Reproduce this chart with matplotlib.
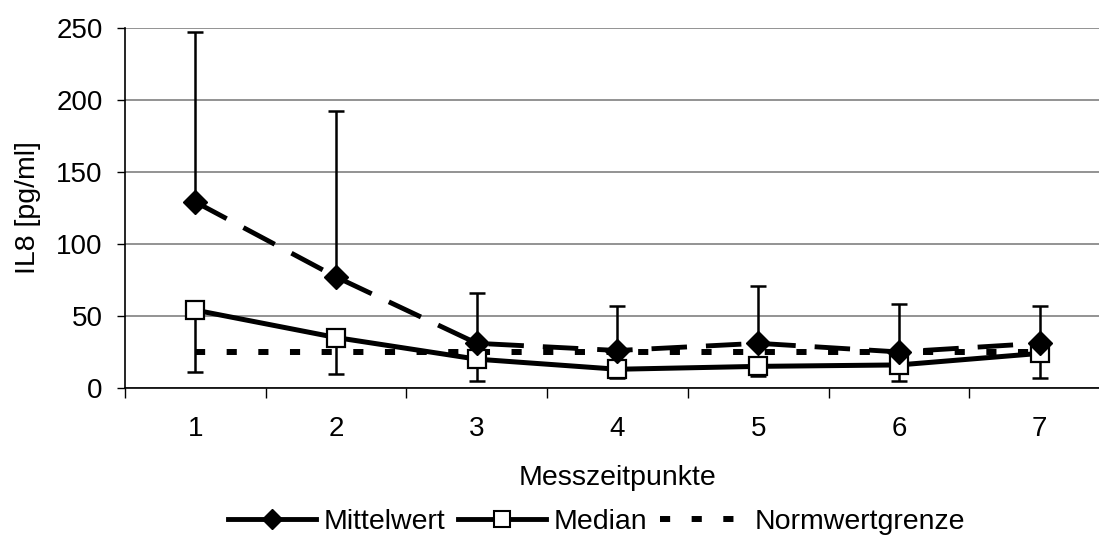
import matplotlib
matplotlib.use('Agg')
import matplotlib.pyplot as plt
import numpy as np
from matplotlib.lines import Line2D

plt.rcParams['font.family'] = ['Liberation Sans', 'DejaVu Sans']

# Messzeitpunkte 1..7
zeitpunkte = [1, 2, 3, 4, 5, 6, 7]
mittelwert = [129, 77, 31, 26, 31, 25, 31]
mittelwert_oben = [247, 192, 66, 57, 71, 58, 57]   # Mittelwert + SD
median = [54, 35, 20, 13, 15, 16, 24]
median_unten = [11, 10, 5, 7, 8, 5, 7]            # untere Grenze
normwert = [25, 25, 25, 25, 25, 25, 25]

x = np.array(zeitpunkte)
mw = np.array(mittelwert)
md = np.array(median)

fig = plt.figure(figsize=(10.99, 5.46), dpi=100)
ax = fig.add_axes([125/1099, 158/546, 985/1099, 360.5/546])

# Fehlerbalken (nach oben vom Mittelwert, nach unten vom Median)
ax.errorbar(x, mw, yerr=[np.zeros(7), np.array(mittelwert_oben) - mw], fmt='none',
            ecolor='black', elinewidth=1.8, capsize=5.5, capthick=1.8, zorder=2)
ax.errorbar(x, md, yerr=[md - np.array(median_unten), np.zeros(7)], fmt='none',
            ecolor='black', elinewidth=1.8, capsize=5.5, capthick=1.8, zorder=2)

ax.plot(x, normwert, color='black', lw=4.3, linestyle=(0, (1.7, 3.6)),
        dash_capstyle='butt', zorder=3)
ax.plot(x, md, color='black', lw=3.6, marker='s', markersize=13,
        markerfacecolor='white', markeredgecolor='black', markeredgewidth=1.6, zorder=4)
ax.plot(x, mw, color='black', lw=3.5, linestyle=(0, (7.3, 3.9)), dash_capstyle='butt',
        marker='D', markersize=12.5, markerfacecolor='black', markeredgecolor='black', zorder=5)

ax.set_xlim(0.5, 7.5)
ax.set_ylim(0, 250)
ax.set_yticks([0, 50, 100, 150, 200, 250])
ax.set_xticks(np.arange(0.5, 8.0, 1.0))
ax.set_xticklabels([])
ax.set_xticks(x, minor=True)
ax.set_xticklabels([str(v) for v in zeitpunkte], minor=True)
ax.tick_params(axis='x', which='minor', length=0, labelsize=20, pad=20)
ax.tick_params(axis='x', which='major', length=7, width=1, direction='out')
ax.tick_params(axis='y', length=6, width=1, labelsize=20, pad=10)

ax.grid(True, axis='y', color='#808080', linewidth=1.2)
ax.set_axisbelow(True)
for s in ['top', 'right']:
    ax.spines[s].set_visible(False)
ax.spines['left'].set_linewidth(1.2)
ax.spines['bottom'].set_linewidth(1.2)

ax.set_xlabel('Messzeitpunkte', fontsize=20.5, labelpad=17)
ax.set_ylabel('IL8 [pg/ml]', fontsize=20.5, labelpad=11)

handles = [
    Line2D([], [], color='black', lw=3.5, marker='D', markersize=10, markerfacecolor='black'),
    Line2D([], [], color='black', lw=3.5, marker='s', markersize=12,
           markerfacecolor='white', markeredgewidth=1.5),
    Line2D([], [], color='black', lw=4.3, linestyle=(0, (1.7, 3.6)), dash_capstyle='butt'),
]
fig.legend(handles, ['Mittelwert', 'Median', 'Normwertgrenze'], loc='center',
           bbox_to_anchor=(0.543, 0.044), ncol=3, frameon=False, fontsize=20.5,
           handlelength=3.1, handletextpad=0.25, columnspacing=0.45)

fig.savefig('out.png', dpi=100)
